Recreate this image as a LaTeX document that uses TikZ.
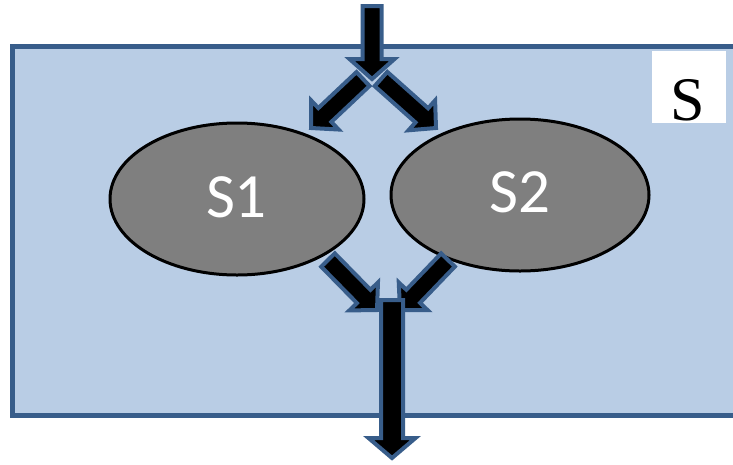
\documentclass[tikz,border=0pt]{standalone}
\usepackage{fontspec}
\setmainfont{Liberation Serif}
\newfontfamily\calib{Carlito}
\usetikzlibrary{calc,shapes.geometric}
\definecolor{boxfill}{HTML}{B9CDE5}
\definecolor{boxline}{HTML}{385D8A}
\definecolor{ellfill}{HTML}{7F7F7F}
\tikzset{
  container/.style={draw=boxline, fill=boxfill, line width=5pt},
  labelbox/.style={fill=white, minimum width=74pt, minimum height=72pt, inner sep=0pt},
  labeltext/.style={inner sep=0pt, font=\fontsize{62}{62}\selectfont},
  blob/.style={ellipse, draw=black, fill=ellfill, line width=3pt, inner sep=0pt},
  blobtext/.style={inner sep=0pt, text=white, font=\calib\fontsize{63}{63}\selectfont},
  barrow/.style={draw=boxline, fill=black, line width=4pt, line join=miter},
}
% block arrow from #1 to #2; #3 shaft half width, #4 head half width, #5 head length
\newcommand\blockarrow[5]{%
  \path let \p1=(#1), \p2=(#2), \n1={veclen(\x2-\x1,\y2-\y1)}, \n2={atan2(\y2-\y1,\x2-\x1)} in
    [barrow] (\p1) -- ++(\n2+90:#3) -- ++(\n2:\n1-#5) -- ++(\n2+90:#4-#3)
      -- (\p2) -- ($(\p1)+(\n2:\n1-#5)+(\n2-90:#4)$) -- ++(\n2+90:#4-#3)
      -- ++(\n2:#5-\n1) -- cycle;%
}
\begin{document}
\begin{tikzpicture}[x=1pt,y=-1pt]
\useasboundingbox (0,0) rectangle (733,464);
\draw[container] (12,46) -- (740,46) -- (740,415) -- (12,415) -- cycle;
\node[labelbox] (lab) at (689,87) {};
\node[labeltext] (labtxt) at (688,100) {S};
\node[blob, minimum width=254pt, minimum height=152pt] (s1) at (237,199) {};
\node[blob, minimum width=258pt, minimum height=152pt] (s2) at (520,195) {};
\node[blobtext] (s1txt) at (236.5,197.5) {S1};
\node[blobtext] (s2txt) at (520,192.5) {S2};
\coordinate (inT) at (372,6);
\coordinate (split) at (372,79);
\coordinate (t1a) at (363,79);
\coordinate (t1b) at (311,128);
\coordinate (t2a) at (381,79);
\coordinate (t2b) at (436,128);
\coordinate (b1a) at (328,260);
\coordinate (b1b) at (377,310);
\coordinate (b2a) at (448,260);
\coordinate (b2b) at (400,310);
\coordinate (outT) at (392,300);
\coordinate (outB) at (392,458);
\blockarrow{t1a}{t1b}{9.5pt}{20pt}{19pt}
\blockarrow{t2a}{t2b}{9.5pt}{20pt}{19pt}
\blockarrow{b1a}{b1b}{9.5pt}{20pt}{19pt}
\blockarrow{b2a}{b2b}{9.5pt}{20pt}{19pt}
\blockarrow{inT}{split}{9.5pt}{22.5pt}{20pt}
\blockarrow{outT}{outB}{11pt}{23.5pt}{20pt}
\end{tikzpicture}
\end{document}
